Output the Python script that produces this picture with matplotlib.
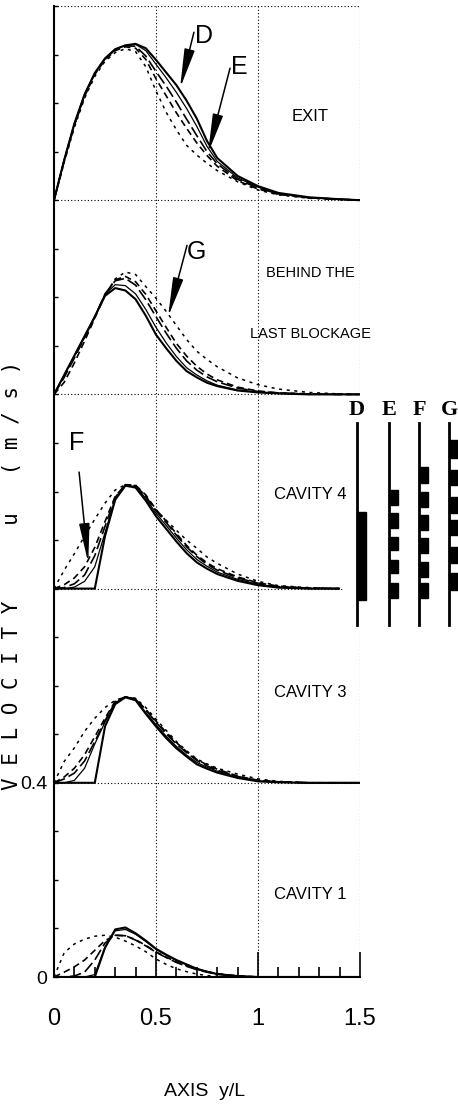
import numpy as np
import matplotlib.pyplot as plt
from matplotlib.patches import Rectangle

plt.rcParams['font.family'] = ['Liberation Sans', 'DejaVu Sans']

# axial position y/L (common grid for all read-off curves)
x_pos = [0, 0.05, 0.1, 0.15, 0.2, 0.25, 0.3, 0.35, 0.4, 0.45, 0.5, 0.55, 0.6,
         0.65, 0.7, 0.75, 0.8, 0.9, 1.0, 1.1, 1.25, 1.4, 1.5]

panel_names = ['EXIT', 'BEHIND THE\nLAST BLOCKAGE', 'CAVITY 4', 'CAVITY 3', 'CAVITY 1']
panel_base = [1.6, 1.2, 0.8, 0.4, 0.0]
nan = np.nan

# velocity u (m/s) above each panel base
exit_D = [0, .083, .158, .218, .262, .292, .311, .319, .322, .313, .289, .263, .237, .205, .168, .122, .087, .050, .029, .015, .006, .002, 0]
exit_B = [0, .083, .158, .218, .262, .292, .311, .319, .321, .308, .280, .252, .222, .189, .152, .111, .080, .046, .027, .014, .005, .002, 0]
exit_E = [0, .082, .156, .216, .261, .291, .310, .318, .317, .297, .265, .235, .202, .167, .133, .100, .075, .043, .025, .013, .005, .002, 0]
exit_F = [0, .080, .154, .214, .259, .289, .308, .316, .313, .290, .250, .215, .180, .148, .118, .092, .070, .040, .023, .012, .005, .002, 0]
exit_G = [0, .078, .150, .210, .255, .286, .304, .312, .306, .275, .225, .181, .145, .113, .093, .076, .061, .038, .021, .011, .004, .001, 0]

behind_D = [0, .040, .080, .120, .160, .203, .219, .214, .196, .162, .123, .095, .069, .048, .035, .024, .017, .008, .004, .002, 0, 0, 0]
behind_B = [0, .040, .080, .120, .161, .206, .226, .224, .207, .175, .138, .106, .078, .055, .040, .028, .019, .009, .005, .002, 0, 0, 0]
behind_E = [0, .035, .075, .117, .160, .207, .234, .239, .225, .195, .160, .126, .095, .069, .050, .036, .026, .013, .006, .003, .001, 0, 0]
behind_F = [0, .025, .065, .110, .157, .205, .236, .243, .232, .206, .172, .138, .105, .079, .058, .042, .030, .015, .007, .003, .001, 0, 0]
behind_G = [0, .038, .078, .118, .160, .204, .238, .252, .247, .222, .198, .171, .142, .113, .089, .072, .057, .034, .020, .011, .004, .001, 0]

cav4_D = [0, 0, 0, 0, 0, .108, .183, .212, .208, .181, .149, .123, .097, .073, .054, .041, .030, .016, .007, .002, 0, 0, nan]
cav4_B = [0, 0, .003, .015, .045, .115, .185, .213, .210, .186, .155, .130, .104, .080, .060, .046, .034, .019, .009, .003, 0, 0, nan]
cav4_E = [0, .002, .010, .028, .068, .128, .188, .214, .212, .190, .160, .136, .110, .086, .066, .050, .038, .022, .011, .004, .001, 0, nan]
cav4_F = [0, .008, .022, .045, .085, .138, .190, .214, .213, .193, .163, .139, .113, .089, .069, .053, .041, .024, .012, .005, .001, 0, nan]
cav4_G = [0, .038, .072, .108, .143, .176, .203, .214, .211, .190, .162, .141, .120, .100, .083, .065, .052, .030, .015, .006, .002, 0, nan]

cav3_D = [0, 0, 0, 0, 0, .116, .162, .176, .170, .142, .116, .092, .071, .054, .038, .029, .021, .010, .003, .001, 0, 0, 0]
cav3_B = [0, 0, .005, .030, .080, .125, .165, .177, .171, .145, .120, .096, .075, .057, .042, .032, .024, .012, .004, .001, 0, 0, 0]
cav3_E = [0, .008, .020, .045, .085, .128, .166, .177, .172, .150, .125, .101, .080, .062, .046, .035, .026, .013, .005, .002, 0, 0, 0]
cav3_F = [0, .012, .030, .058, .095, .133, .168, .177, .173, .151, .127, .104, .083, .064, .048, .037, .028, .014, .005, .002, 0, 0, 0]
cav3_G = [0, .044, .072, .106, .133, .155, .170, .177, .174, .155, .131, .108, .085, .066, .049, .039, .030, .018, .008, .003, 0, 0, 0]

cav1_D = [0, 0, 0, 0, 0, .060, .098, .102, .090, .075, .058, .046, .035, .026, .017, .011, .006, .002, 0, 0, 0, 0, 0]
cav1_B = [0, 0, 0, 0, .005, .062, .095, .098, .088, .073, .057, .045, .034, .025, .017, .011, .006, .002, 0, 0, 0, 0, 0]
cav1_E = [0, 0, .002, .010, .035, .070, .086, .085, .076, .064, .051, .040, .030, .022, .015, .010, .006, .002, 0, 0, 0, 0, 0]
cav1_F = [0, .010, .021, .035, .055, .075, .086, .085, .077, .065, .052, .041, .031, .023, .016, .011, .007, .002, 0, 0, 0, 0, 0]
cav1_G = [0, .050, .068, .078, .084, .086, .082, .074, .064, .052, .037, .026, .017, .011, .006, .003, .001, 0, 0, 0, 0, 0, 0]

panels = [
    {'B': exit_B, 'G': exit_G, 'F': exit_F, 'E': exit_E, 'D': exit_D},
    {'B': behind_B, 'G': behind_G, 'F': behind_F, 'E': behind_E, 'D': behind_D},
    {'B': cav4_B, 'G': cav4_G, 'F': cav4_F, 'E': cav4_E, 'D': cav4_D},
    {'B': cav3_B, 'G': cav3_G, 'F': cav3_F, 'E': cav3_E, 'D': cav3_D},
    {'B': cav1_B, 'G': cav1_G, 'F': cav1_F, 'E': cav1_E, 'D': cav1_D},
]

line_styles = {
    'D': dict(ls='-', lw=1.5),
    'B': dict(ls='-', lw=0.9),
    'E': dict(ls=(0, (7, 2.5)), lw=1.2),
    'F': dict(ls=(0, (4, 2.5)), lw=1.2),
    'G': dict(ls=(0, (2, 3)), lw=1.1),
}

fig = plt.figure(figsize=(4.58, 11.1), dpi=100)
ax = fig.add_axes([54 / 458, 133 / 1110, 306 / 458, 971 / 1110])
ax.set_xlim(0, 1.5)
ax.set_ylim(0, 2.0)

x = np.array(x_pos)
for base, curves in zip(panel_base, panels):
    for key, vals in curves.items():
        ax.plot(x, base + np.array(vals), color='black', solid_capstyle='butt', **line_styles[key])

# dotted frame / grid
dot = dict(color='black', ls=(0, (1, 2)), lw=0.8)
for yy in [0.4, 1.2, 1.6, 2.0]:
    ax.plot([0, 1.5], [yy, yy], **dot)
ax.plot([0, 1.41], [0.8, 0.8], **dot)
for xx in [0.5, 1.0]:
    ax.plot([xx, xx], [0, 2.0], **dot)
ax.plot([1.5, 1.5], [0, 0.71], **dot)
ax.plot([1.5, 1.5], [1.2, 2.0], **dot)

label_y = [1.773, (1.45, 1.324), 0.993, 0.587, 0.169]
for name, yy in zip(panel_names, label_y):
    if '\n' in name:
        for part, y_part in zip(name.split('\n'), yy):
            ax.text(1.255, y_part, part, ha='center', va='center', fontsize=10.5)
    else:
        ax.text(1.255, yy, name, ha='center', va='center', fontsize=12)

# arrows with letters
arrows = [('D', (0.618, 1.831), (0.686, 1.946), (0.735, 1.938)),
          ('E', (0.755, 1.697), (0.863, 1.872), (0.907, 1.874)),
          ('G', (0.559, 1.360), (0.652, 1.507), (0.696, 1.493)),
          ('F', (0.168, 0.853), (0.123, 1.040), (0.113, 1.100))]
for lab, tip, tail, tpos in arrows:
    ax.annotate('', xy=tip, xytext=tail,
                arrowprops=dict(arrowstyle='-|>,head_length=1.2,head_width=0.16',
                                color='black', lw=1.1, mutation_scale=20, shrinkA=0, shrinkB=0))
    ax.text(tpos[0], tpos[1], lab, ha='center', va='center', fontsize=18)

for side in ['top', 'right']:
    ax.spines[side].set_visible(False)
for side in ['left', 'bottom']:
    ax.spines[side].set_linewidth(1.5)

ax.set_xticks([0, 0.5, 1.0, 1.5])
ax.set_xticklabels(['0', '0.5', '1', '1.5'])
ax.set_xticks(np.arange(0, 1.51, 0.1), minor=True)
ax.tick_params(axis='x', which='major', direction='in', length=18, width=1.2, pad=22, labelsize=17)
ax.tick_params(axis='x', which='minor', direction='in', length=7, width=1.2)
ax.set_yticks([0, 0.4])
ax.set_yticklabels(['0', '0.4'])
ax.set_yticks(np.arange(0, 2.01, 0.1), minor=True)
ax.tick_params(axis='y', which='both', direction='in', length=3, width=1, pad=5, labelsize=14)

fig.text(205 / 458, 1 - 1092 / 1110, 'AXIS  y/L', ha='center', va='center', fontsize=14)
fig.text(12 / 458, 1 - 575 / 1110, 'V E L O C I T Y      u   ( m / s )', rotation=90,
         ha='center', va='center', fontsize=15, family=['DejaVu Sans Mono'])

# legend of line codes, drawn in pixel space on an overlay
ov = fig.add_axes([0, 0, 1, 1])
ov.set_xlim(0, 458)
ov.set_ylim(1110, 0)
ov.axis('off')
legend_marks = {
    'D': (356.5, [(512, 600)]),
    'E': (388.5, [(490, 505), (513, 528), (537, 550), (560, 573), (583, 598)]),
    'F': (418.5, [(467, 483), (492, 507), (515, 530), (538, 553), (562, 577), (583, 598)]),
    'G': (448.5, [(440, 458), (470, 485), (497, 513), (520, 535), (547, 563), (573, 590)]),
}
for lab, (lx, blocks) in legend_marks.items():
    ov.plot([lx, lx], [423, 625], color='black', lw=2)
    for y0, y1 in blocks:
        ov.add_patch(Rectangle((lx, y0), 9, y1 - y0, color='black'))
    ov.text(lx + 0.5, 410, lab, ha='center', va='center', fontsize=16,
            family=['Liberation Serif', 'DejaVu Serif'], fontweight='bold')

fig.savefig('out.png', dpi=100)
